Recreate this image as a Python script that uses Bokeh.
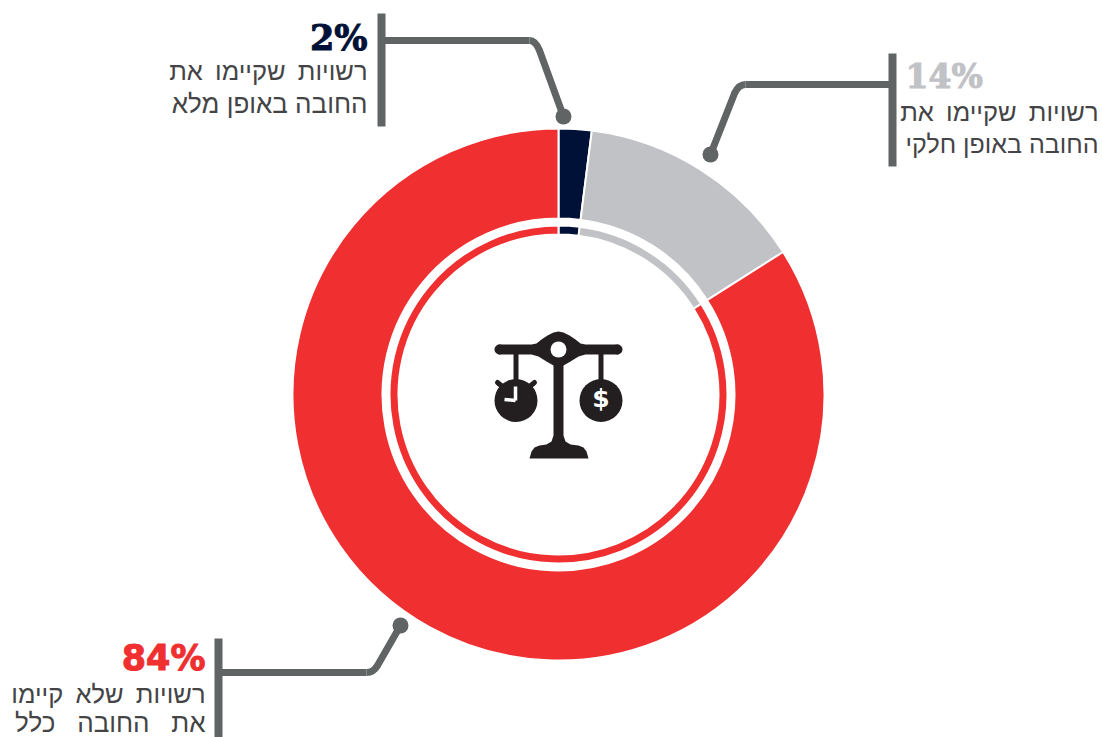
from math import pi
from bokeh.plotting import figure
from bokeh.embed import file_html
from bokeh.resources import INLINE
from bokeh.models import Range1d
from bokeh.core.properties import value

categories = ["מלא", "חלקי", "כלל"]
values = [2, 14, 84]
colors = ["#001137", "#c1c2c6", "#ef2f30"]
pct_labels = ["2%", "14%", "84%"]
T = "\u2009"
line_a = [f"רשויות {T}שקיימו {T}את", f"רשויות {T}שקיימו {T}את", f"רשויות {T}שלא {T}קיימו"]
line_b = ["החובה באופן מלא", "החובה באופן חלקי", "את\u00a0\u00a0\u00a0החובה\u00a0\u00a0\u00a0כלל"]

W, H = 1102, 737
GREY = "#616464"
INK = "#231f20"
HEB = value("Liberation Sans")

def Y(py):
    return 737 - py

p = figure(width=W, height=H, output_backend="svg", toolbar_location=None,
           x_range=Range1d(0, W), y_range=Range1d(0, H),
           min_border=0, outline_line_color=None, background_fill_color="white")
p.axis.visible = False
p.grid.visible = False

cx, cy = 558, Y(394)
total = sum(values)
starts, ends, acc = [], [], 0
for v in values:
    ends.append(pi / 2 - 2 * pi * acc / total)
    acc += v
    starts.append(pi / 2 - 2 * pi * acc / total)

for i in range(3):
    p.annular_wedge(x=cx, y=cy, inner_radius=176, outer_radius=266,
                    start_angle=starts[i], end_angle=ends[i], direction="anticlock",
                    fill_color=colors[i], line_color="white", line_width=2)
    p.annular_wedge(x=cx, y=cy, inner_radius=160, outer_radius=169,
                    start_angle=starts[i], end_angle=ends[i], direction="anticlock",
                    fill_color=colors[i], line_color="white", line_width=2)

# leader lines: vertical bar, horizontal run, rounded corner, slanted run, end dot
bars = [(381, 13, 126), (892, 53, 166), (218, 638, 737)]
for bx, y0, y1 in bars:
    p.segment(x0=bx, y0=Y(y0), x1=bx, y1=Y(y1), line_color=GREY, line_width=8)
leaders = [((381, 40), (529, 40), (535, 40), (539, 50), (563, 116)),
           ((892, 84), (745, 84), (738, 84), (734, 93), (710, 154)),
           ((218, 672), (366, 672), (373, 672), (377, 665), (400, 625))]
for a, b, c, d, e in leaders:
    p.line(x=[a[0], b[0]], y=[Y(a[1]), Y(b[1])], line_color=GREY, line_width=7)
    p.quadratic(x0=b[0], y0=Y(b[1]), x1=d[0], y1=Y(d[1]), cx=c[0], cy=Y(c[1]),
                line_color=GREY, line_width=7)
    p.line(x=[d[0], e[0]], y=[Y(d[1]), Y(e[1])], line_color=GREY, line_width=7, line_cap="round")
    p.scatter(x=[e[0]], y=[Y(e[1])], size=16, fill_color=GREY, line_color=None)

# labels
pct_pos = [(367, 37, "right", "DejaVu Serif", "35px"),
           (905, 76, "left", "DejaVu Serif", "33px"),
           (205, 657, "right", "DejaVu Sans", "35px")]
pct_cols = ["#001137", "#c1c2c6", "#ef2f30"]
for (x, y, al, f, s), t, c in zip(pct_pos, pct_labels, pct_cols):
    p.text(x=[x], y=[Y(y)], text=[t], text_color=c, text_font=value(f), text_font_style="bold",
           text_font_size=s, text_align=al, text_baseline="alphabetic",
           text_outline_color=c)
a_pos = [(367, 70), (1098, 111), (205, 693)]
b_pos = [(367, 103), (1098, 143), (205, 722)]
for (x, y), t in zip(a_pos, line_a):
    p.text(x=[x], y=[Y(y)], text=[t], text_color="#444446", text_font=HEB, text_font_size="25.5px",
           text_align="right", text_baseline="alphabetic")
for (x, y), t, s in zip(b_pos, line_b, ["26px", "25px", "26px"]):
    p.text(x=[x], y=[Y(y)], text=[t], text_color="#444446", text_font=HEB, text_font_size=s,
           text_align="right", text_baseline="alphabetic")

# centre icon: a balance with a clock and a dollar
hump_x = [498, 531, 536, 541, 547, 553, 558, 563, 569, 575, 580, 585, 618, 618, 585, 578, 570, 563, 563, 553, 553, 546, 538, 531, 498]
hump_y = [344, 344, 343, 339, 335, 332, 331, 332, 335, 339, 343, 344, 344, 354, 354, 356, 361, 365, 365, 365, 365, 361, 356, 354, 354]
p.patch(x=hump_x, y=[Y(v) for v in hump_y], fill_color=INK, line_color=None)
p.scatter(x=[499, 617], y=[Y(349), Y(349)], size=10, fill_color=INK, line_color=None)
base_x = [553, 563, 563, 565, 570, 578, 583, 586, 588, 529, 531, 534, 539, 546, 551, 553]
base_y = [360, 360, 435, 441, 444, 445, 447, 451, 458, 458, 451, 447, 445, 444, 441, 435]
p.patch(x=base_x, y=[Y(v) for v in base_y], fill_color=INK, line_color=None)
p.scatter(x=[558], y=[Y(349)], size=16, fill_color="white", line_color=None)
p.segment(x0=[515.5, 600.5], y0=[Y(350), Y(350)], x1=[515.5, 600.5], y1=[Y(385), Y(385)],
          line_color=INK, line_width=5)
p.scatter(x=[515.5, 600.5], y=[Y(400), Y(400)], size=43, fill_color=INK, line_color=None)
p.segment(x0=[497, 534], y0=[Y(382), Y(382)], x1=[503, 528], y1=[Y(387), Y(387)],
          line_color=INK, line_width=5, line_cap="round")
p.segment(x0=[515, 515], y0=[Y(386), Y(400)], x1=[515, 504], y1=[Y(400), Y(399)],
          line_color="white", line_width=3.5)
p.text(x=[600.5], y=[Y(398)], text=["$"], text_color="white", text_font=value("DejaVu Sans"),
       text_font_style="bold", text_font_size="25px", text_align="center", text_baseline="alphabetic")

open("out.html", "w").write(file_html(p, INLINE))
